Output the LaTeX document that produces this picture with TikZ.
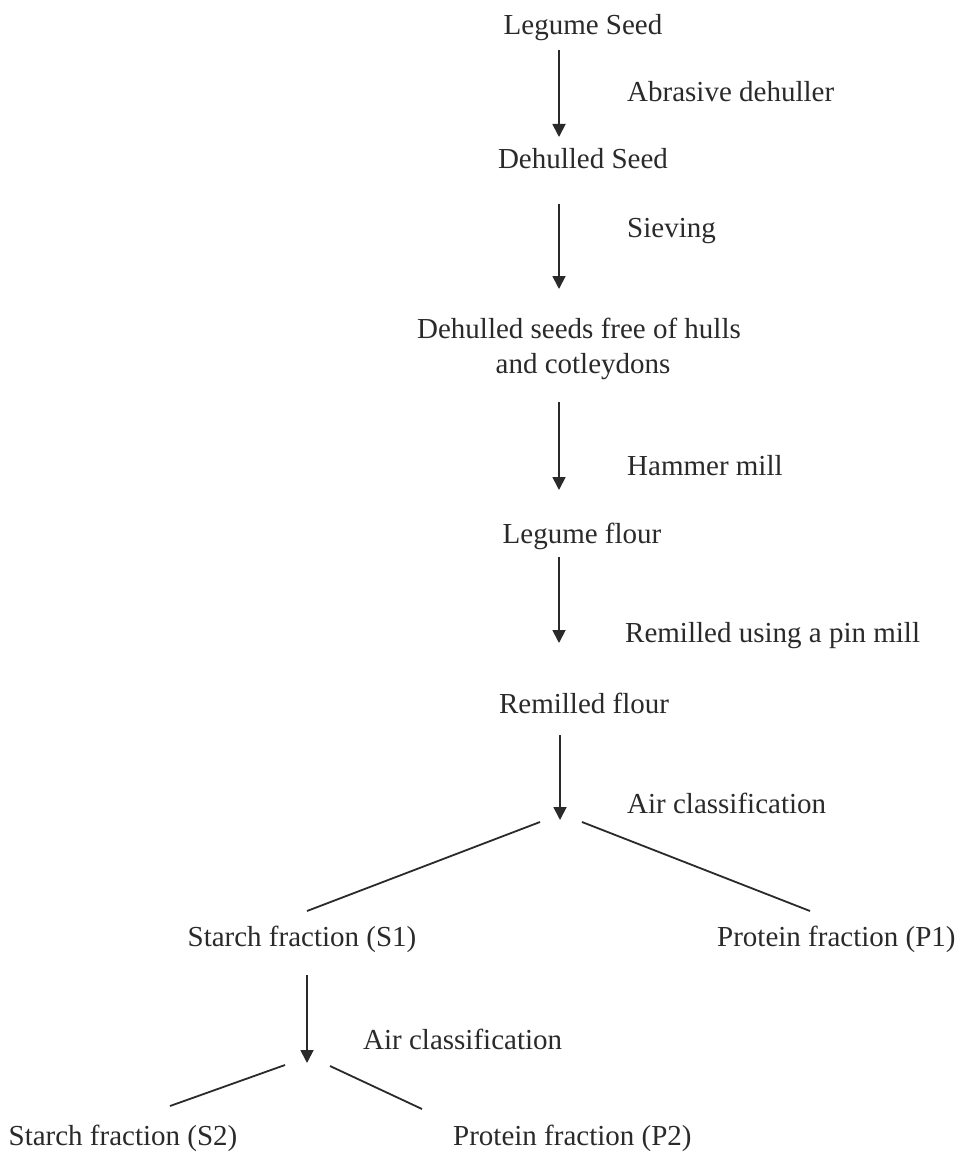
\documentclass[tikz,border=0pt]{standalone}
\usepackage{fontspec}
\setmainfont{Liberation Serif}
\usetikzlibrary{arrows.meta}
\definecolor{ink}{HTML}{2A2A2A}
\begin{document}
\begin{tikzpicture}[x=1pt,y=-1pt,
  txt/.style={inner sep=0pt, text=ink, font=\fontsize{29}{34}\selectfont},
  ctr/.style={txt, anchor=base},
  lbl/.style={txt, anchor=base west},
  arr/.style={draw=ink, line width=1.8pt, -{Triangle[length=13pt,width=13pt]}},
  ln/.style={draw=ink, line width=1.8pt}]
\useasboundingbox (0,0) rectangle (963,1158);
\fill[white] (0,0) rectangle (963,1158);

% main column nodes
\node[ctr] (ls) at (583,35) {Legume Seed};
\node[ctr] (ds) at (583,169) {Dehulled Seed};
\node[ctr] (df1) at (579,338) {Dehulled seeds free of hulls};
\node[ctr] (df2) at (583,373) {and cotleydons};
\node[ctr] (lf) at (582,543) {Legume flour};
\node[ctr] (rf) at (584,713) {Remilled flour};
\node[ctr] (s1) at (302,946) {Starch fraction (S1)};
\node[lbl] (p1) at (717,946) {Protein fraction (P1)};
\node[ctr] (s2) at (123,1145) {Starch fraction (S2)};
\node[lbl] (p2) at (453,1145) {Protein fraction (P2)};

% step labels
\node[lbl] (l1) at (627,102) {Abrasive dehuller};
\node[lbl] (l2) at (627,238) {Sieving};
\node[lbl] (l3) at (627,475) {Hammer mill};
\node[lbl] (l4) at (625,642) {Remilled using a pin mill};
\node[lbl] (l5) at (627,813) {Air classification};
\node[lbl] (l6) at (363,1049) {Air classification};

% arrow end points
\coordinate (a1s) at (559,50);   \coordinate (a1e) at (559,137);
\coordinate (a2s) at (559,204);  \coordinate (a2e) at (559,289);
\coordinate (a3s) at (559,402);  \coordinate (a3e) at (559,490);
\coordinate (a4s) at (559,557);  \coordinate (a4e) at (559,643);
\coordinate (a5s) at (560,735);  \coordinate (a5e) at (560,820);
\coordinate (a6s) at (307,975);  \coordinate (a6e) at (307,1063);

\draw[arr] (a1s) -- (a1e);
\draw[arr] (a2s) -- (a2e);
\draw[arr] (a3s) -- (a3e);
\draw[arr] (a4s) -- (a4e);
\draw[arr] (a5s) -- (a5e);
\draw[arr] (a6s) -- (a6e);

% branches
\coordinate (b1l) at (540,822); \coordinate (b1le) at (307,911);
\coordinate (b1r) at (582,822); \coordinate (b1re) at (810,911);
\coordinate (b2l) at (285,1065); \coordinate (b2le) at (170,1106);
\coordinate (b2r) at (330,1066); \coordinate (b2re) at (422,1109);
\draw[ln] (b1l) -- (b1le);
\draw[ln] (b1r) -- (b1re);
\draw[ln] (b2l) -- (b2le);
\draw[ln] (b2r) -- (b2re);
\end{tikzpicture}
\end{document}
